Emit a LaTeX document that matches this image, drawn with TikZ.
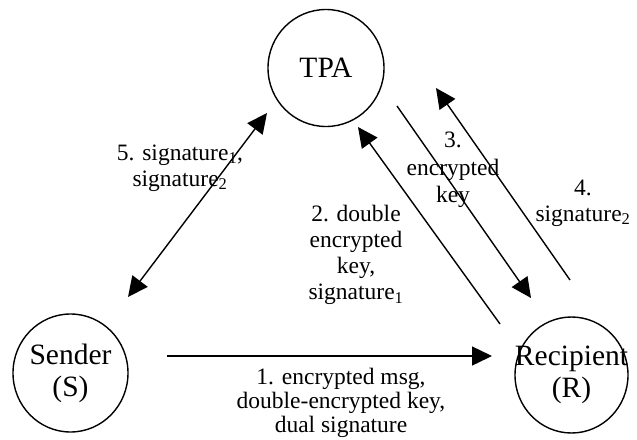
\documentclass[tikz,border=0pt]{standalone}
\usepackage{fontspec}
\setmainfont{Liberation Serif}
\usetikzlibrary{arrows.meta,shapes.geometric}
\begin{document}
\begin{tikzpicture}[x=1pt,y=-1pt,
  party/.style={draw,line width=1.4pt,ellipse,inner sep=0pt},
  partytext/.style={align=center,inner sep=0pt,font=\fontsize{29.5}{32}\selectfont},
  msg/.style={align=center,inner sep=0pt,font=\fontsize{23.5}{26}\selectfont},
  flow/.style={line width=1.4pt,-{Triangle[length=20pt,width=19pt]}},
  flow2/.style={line width=1.4pt,{Triangle[length=20pt,width=19pt]}-{Triangle[length=20pt,width=19pt]}}]
\useasboundingbox (0,0) rectangle (637,439);
\node[party,minimum width=116pt,minimum height=117pt] (tpa) at (326,68) {};
\node[partytext] (tpat) at (tpa.center) {TPA};
\node[party,minimum width=115pt,minimum height=118pt] (s) at (70.5,373) {};
\node[partytext] (st) at (s.center) {Sender\\(S)};
\node[party,minimum width=113pt,minimum height=116pt] (r) at (571.5,375) {};
\node[partytext] (rt) at (r.center) {Recipient\\(R)};
% connector end points
\coordinate (a1s) at (167,356);  \coordinate (a1e) at (492,356);
\coordinate (a5s) at (128,297);  \coordinate (a5e) at (267,113);
\coordinate (a2s) at (500,324);  \coordinate (a2e) at (358,127);
\coordinate (a3s) at (397,106);  \coordinate (a3e) at (531,298);
\coordinate (a4s) at (570,280);  \coordinate (a4e) at (436,88);
\draw[flow] (a1s) -- (a1e);
\draw[flow2] (a5s) -- (a5e);
\draw[flow] (a2s) -- (a2e);
\draw[flow] (a3s) -- (a3e);
\draw[flow] (a4s) -- (a4e);
\node[msg,font=\fontsize{23.5}{24}\selectfont] (l1) at (341,403) {1. encrypted msg,\\double-encrypted key,\\dual signature};
\node[msg] (l2) at (356,255) {2. double\\encrypted\\key,\\signature\textsubscript{1}};
\node[msg,font=\fontsize{23.5}{27.5}\selectfont] (l3) at (453,170) {3.\\encrypted\\key};
\node[msg] (l4) at (583,203) {4.\\signature\textsubscript{2}};
\node[msg] (l5) at (180,168) {5. signature\textsubscript{1},\\signature\textsubscript{2}};
\end{tikzpicture}
\end{document}
